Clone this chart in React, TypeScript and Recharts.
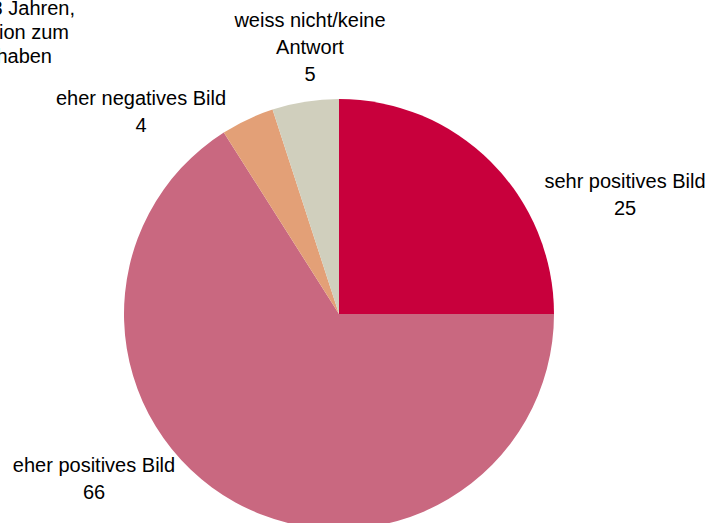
import { PieChart, Pie, Cell } from 'recharts';

const categories = ['sehr positives Bild', 'eher positives Bild', 'eher negatives Bild', 'weiss nicht/keine Antwort'];
const values = [25, 66, 4, 5];
const labelLines = [['sehr positives Bild'], ['eher positives Bild'], ['eher negatives Bild'], ['weiss nicht/keine', 'Antwort']];
const colors = ['#C8003C', '#C96880', '#E3A077', '#D0CFBD'];
// label anchor offsets from the pie centre (first baseline), Excel-style placement
const labelOffsets = [
  { dx: 286, dy: -126 },
  { dx: -245, dy: 158 },
  { dx: -198, dy: -209 },
  { dx: -29, dy: -287 },
];
// title is clipped by the left edge in the reference
const titleLines = ['Stimmberechtigte ab 18 Jahren,', 'die eine Position zum', 'Thema haben'];
const titleEnds = [75, 69, 52];

const data = categories.map((name, i) => ({ name, value: values[i] }));

const FONT = '"Liberation Sans", Arial, sans-serif';
const LINE = 27;

function renderLabel(props: any) {
  const { cx, cy, index } = props;
  const off = labelOffsets[index];
  const x = cx + off.dx;
  const y = cy + off.dy;
  const lines = [...labelLines[index], String(values[index])];
  return (
    <text key={`lbl-${index}`} x={x} y={y} textAnchor="middle" fill="#000" fontSize={20} fontFamily={FONT}>
      {lines.map((l, i) => (
        <tspan key={i} x={x} y={y + i * LINE}>
          {l}
        </tspan>
      ))}
    </text>
  );
}

export default function App() {
  return (
    <div style={{ position: 'absolute', left: 0, top: 0, width: 712, height: 523, background: '#fff', overflow: 'hidden' }}>
      <PieChart width={712} height={523} margin={{ top: 0, right: 0, bottom: 0, left: 0 }}>
        <Pie
          data={data}
          dataKey="value"
          nameKey="name"
          cx={339}
          cy={314}
          outerRadius={215}
          startAngle={90}
          endAngle={-270}
          stroke="none"
          label={renderLabel}
          labelLine={false}
          isAnimationActive={false}
        >
          {data.map((d, i) => (
            <Cell key={d.name} fill={colors[i]} />
          ))}
        </Pie>
      </PieChart>
      <svg width={712} height={80} style={{ position: 'absolute', left: 0, top: 0 }}>
        {titleLines.map((t, i) => (
          <text key={i} x={titleEnds[i]} y={15 + i * 24} textAnchor="end" fontSize={20} fontFamily={FONT} fill="#000">
            {t}
          </text>
        ))}
      </svg>
    </div>
  );
}
